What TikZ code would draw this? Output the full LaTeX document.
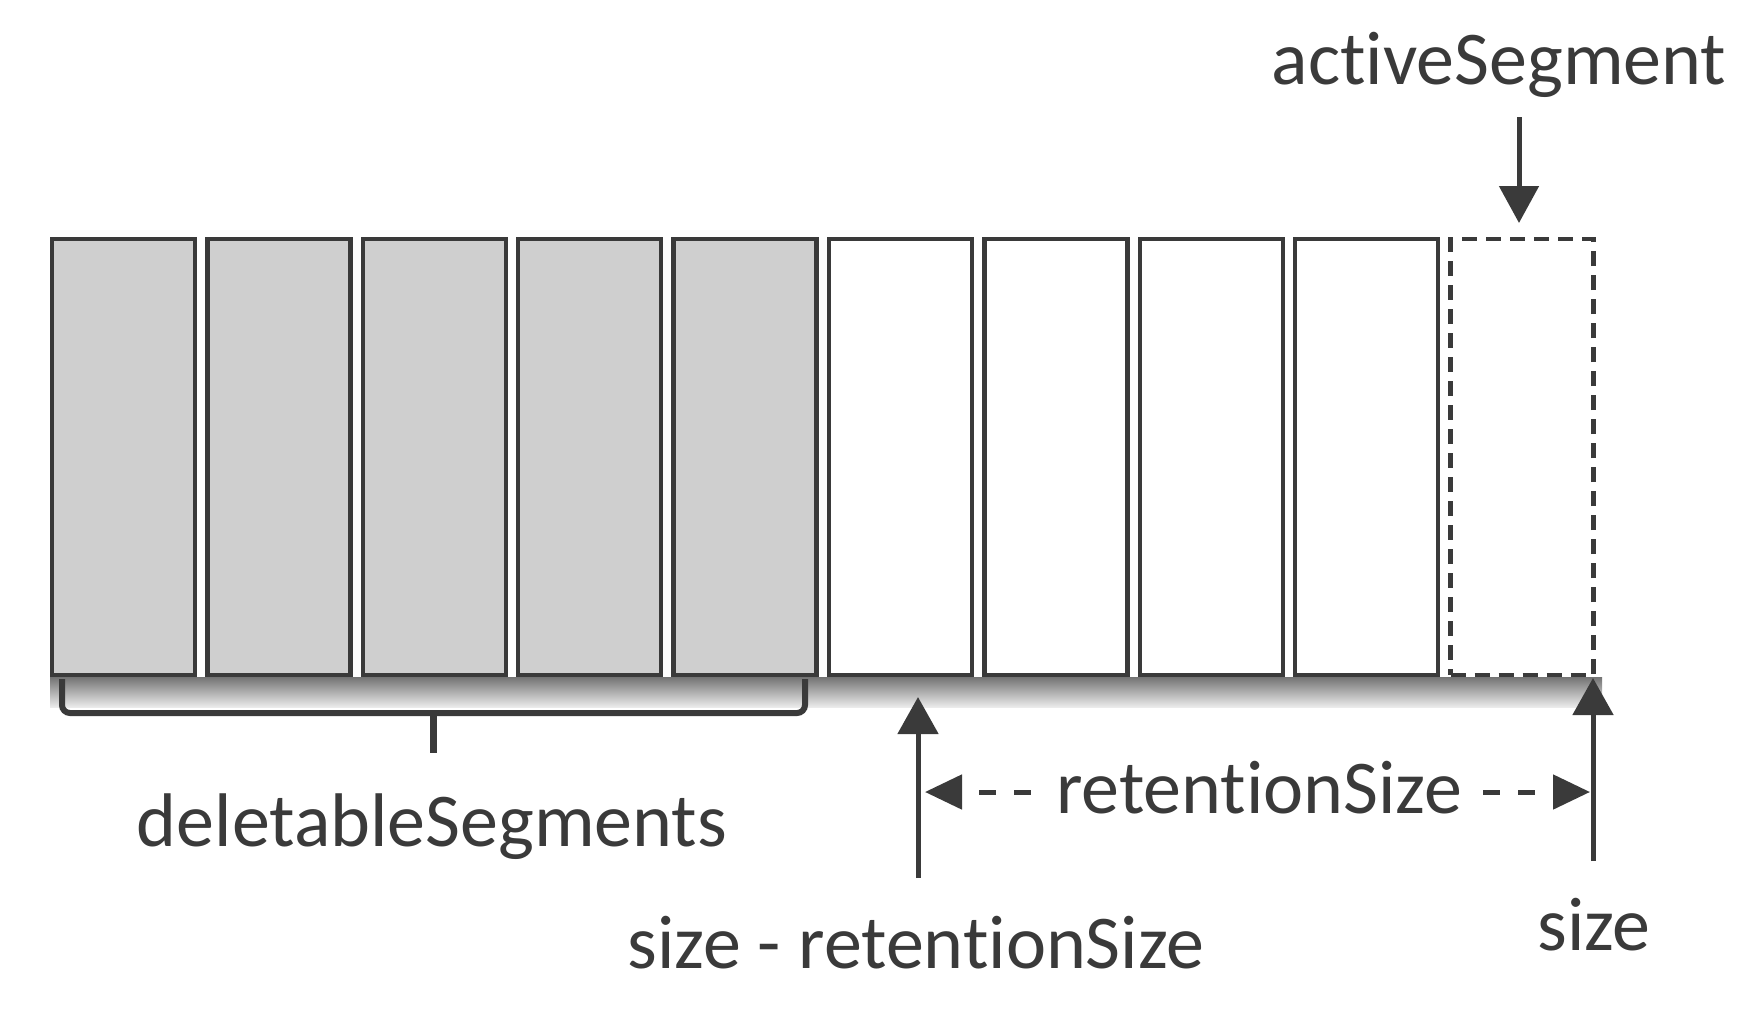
\documentclass[tikz,border=0pt]{standalone}
\usepackage{fontspec}
\setmainfont{Carlito}[Ligatures=NoCommon]
\usetikzlibrary{arrows.meta}
\definecolor{ink}{HTML}{3A3A3A}
\definecolor{segfill}{HTML}{CFCFCF}
\begin{document}
\begin{tikzpicture}[x=1pt,y=-1pt,
  seg/.style={draw=ink,line width=4.5pt,minimum width=143pt,minimum height=436pt,inner sep=0pt,outer sep=0pt,anchor=north west},
  oldseg/.style={seg,fill=segfill},
  newseg/.style={seg,fill=white},
  actseg/.style={seg,fill=white,dash pattern=on 15pt off 9pt},
  lbl/.style={font=\fontsize{76}{90}\selectfont,text=ink,inner sep=0pt,anchor=base},
  uparr/.style={draw=ink,line width=5pt,-{Triangle[length=37pt,width=40pt]}},
  dimarr/.style={draw=ink,line width=5pt,dash pattern=on 17pt off 18pt,-{Triangle[length=37pt,width=34pt]}},
  bracestyle/.style={draw=ink,line width=6pt,rounded corners=8pt},
]
\useasboundingbox (0,0) rectangle (1754,1018);
% shadow under the row of segments
\shade[top color=black!55,bottom color=black!8] (50,677) rectangle (1602,707);
% segments
\foreach \i in {0,...,4}{
  \node[oldseg] (s\i) at ({52+155.4*\i},239) {};
}
\foreach \i in {5,...,8}{
  \node[newseg] (s\i) at ({52+155.4*\i},239) {};
}
\node[actseg] (s9) at ({52+155.4*9},239) {};
% labels
\node[lbl] (act) at (1499,84) {activeSegment};
\node[lbl] (del) at (432,846) {deletableSegments};
\node[lbl] (srs) at (916,968) {size - retentionSize};
\node[lbl] (sz) at (1594,950) {size};
\node[lbl] (rs) at (1259,813) {retentionSize};
% activeSegment arrow
\coordinate (actstart) at (1519,117);
\coordinate (acttip) at (1519,223);
\draw[draw=ink,line width=5pt,-{Triangle[length=37pt,width=39pt]}] (actstart) -- (acttip);
% brace under deletable segments
\coordinate (bl) at (62,679);
\coordinate (br) at (805,679);
\coordinate (bm) at (433,713);
\coordinate (bt) at (433,753);
\draw[bracestyle] (bl) -- (62,713) -- (805,713) -- (br);
\draw[draw=ink,line width=7pt] (bm) -- (bt);
% position arrows
\coordinate (lstart) at (918,878);
\coordinate (ltip) at (918,697);
\coordinate (rstart) at (1593,861);
\coordinate (rtip) at (1593,678);
\draw[uparr] (lstart) -- (ltip);
\draw[uparr] (rstart) -- (rtip);
% retentionSize dimension
\coordinate (rl) at (925,792);
\coordinate (rr) at (1590,792);
\draw[dimarr,shorten <=25pt] (rs.west |- rl) -- (rl);
\draw[dimarr,shorten <=21pt] (rs.east |- rr) -- (rr);
\end{tikzpicture}
\end{document}
